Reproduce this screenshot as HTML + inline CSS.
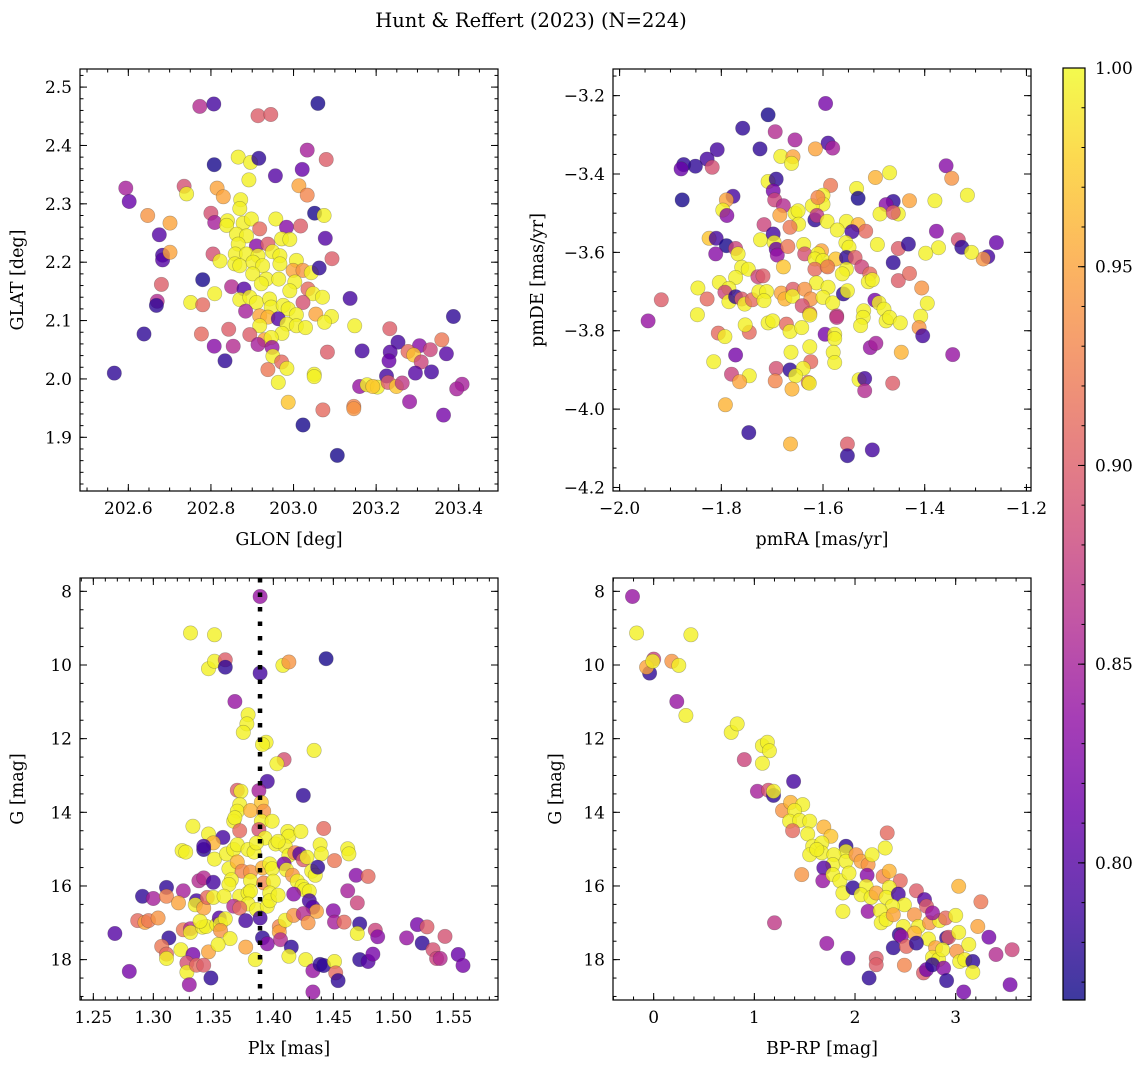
<!DOCTYPE html>
<html><head><meta charset="utf-8">
<style>
html,body{margin:0;padding:0;background:#fff;}
svg{display:block;font-family:"DejaVu Serif","Liberation Serif",serif;}
</style></head>
<body>
<svg id="fig" width="1148" height="1068" viewBox="0 0 1148 1068" xmlns="http://www.w3.org/2000/svg">
<defs>
<linearGradient id="plasma" x1="0" y1="1" x2="0" y2="0"></linearGradient>
</defs>
<text x="531" y="27" font-size="19.5" text-anchor="middle">Hunt &amp; Reffert (2023) (N=224)</text>
</svg>
<script>
// ---------- Panel 1: GLON vs GLAT ----------
const p1Lon=[202.773,202.807,203.059,202.914,202.945,203.033,203.079,202.866,202.896,202.916,202.808,203.021,202.956,202.892,202.594,202.602,202.735,202.741,202.815,202.830,203.013,203.033,202.872,202.870,202.647,202.701,202.800,202.809,203.051,203.074,202.840,202.838,202.878,202.898,202.957,202.918,202.983,203.017,202.675,203.077,202.862,202.886,202.971,202.991,202.866,202.910,202.938,202.683,202.683,202.701,202.805,202.822,202.859,202.886,202.914,202.949,202.967,203.093,202.858,202.870,202.902,202.925,202.967,203.007,202.999,203.023,203.043,203.062,202.680,202.780,202.850,202.880,202.901,202.934,202.964,202.922,203.003,202.991,203.035,203.047,203.070,202.670,202.668,202.751,202.780,202.809,202.870,202.894,202.910,202.942,203.023,203.137,202.884,202.946,202.975,202.987,202.918,202.938,202.963,203.007,203.054,203.092,203.075,203.387,202.918,202.984,203.007,203.029,203.148,202.638,202.777,202.843,202.894,202.972,203.233,202.930,202.946,202.914,202.948,202.808,202.854,203.359,203.253,203.305,203.082,203.166,203.234,203.277,203.331,203.370,203.291,203.309,203.231,202.834,202.950,202.971,202.984,202.938,203.050,203.050,203.295,203.334,203.225,202.963,203.160,203.178,203.203,203.192,203.229,203.249,203.263,203.408,203.395,202.566,202.987,203.071,203.146,203.146,203.281,203.363,203.023,203.106];
const p1Lat=[2.467,2.471,2.472,2.451,2.453,2.392,2.376,2.380,2.371,2.378,2.367,2.359,2.348,2.341,2.327,2.304,2.330,2.317,2.327,2.312,2.331,2.315,2.307,2.292,2.280,2.267,2.284,2.268,2.284,2.280,2.271,2.263,2.267,2.274,2.274,2.257,2.260,2.262,2.247,2.241,2.248,2.245,2.240,2.239,2.231,2.228,2.231,2.212,2.204,2.217,2.214,2.202,2.214,2.214,2.211,2.218,2.211,2.206,2.197,2.194,2.200,2.194,2.197,2.203,2.186,2.186,2.182,2.190,2.162,2.170,2.158,2.154,2.180,2.171,2.171,2.163,2.166,2.151,2.154,2.146,2.140,2.133,2.126,2.131,2.127,2.146,2.136,2.140,2.131,2.137,2.131,2.138,2.116,2.123,2.126,2.120,2.108,2.106,2.103,2.110,2.111,2.107,2.097,2.107,2.091,2.094,2.091,2.088,2.091,2.077,2.077,2.085,2.076,2.078,2.086,2.067,2.071,2.059,2.054,2.056,2.056,2.067,2.063,2.057,2.046,2.048,2.046,2.047,2.050,2.043,2.041,2.029,2.031,2.031,2.039,2.029,2.018,2.016,2.008,2.004,2.010,2.012,2.005,1.994,1.987,1.990,1.986,1.987,1.994,1.987,1.993,1.991,1.983,2.010,1.960,1.947,1.953,1.949,1.961,1.938,1.921,1.869];
const p1Prob=[.86,.79,.77,.90,.90,.85,.90,.995,.995,.78,.77,.81,.80,.995,.85,.81,.89,.995,.95,.95,.95,.93,.995,.995,.94,.95,.89,.85,.77,.995,.995,.995,.995,.995,.995,.91,.83,.90,.80,.80,.995,.995,.995,.995,.995,.83,.90,.79,.80,.95,.89,.995,.995,.995,.995,.995,.995,.90,.995,.995,.995,.995,.995,.995,.95,.94,.995,.78,.90,.77,.86,.80,.995,.995,.995,.995,.995,.995,.91,.995,.995,.86,.78,.995,.91,.995,.995,.995,.995,.995,.89,.79,.85,.995,.995,.995,.95,.96,.80,.995,.95,.995,.995,.78,.995,.995,.995,.995,.995,.78,.91,.90,.90,.995,.90,.95,.995,.85,.84,.83,.86,.92,.79,.83,.90,.79,.80,.91,.88,.80,.97,.88,.81,.78,.995,.91,.995,.92,.995,.995,.80,.79,.79,.995,.84,.995,.995,.97,.90,.97,.87,.85,.85,.78,.97,.91,.93,.94,.84,.82,.77,.77];
const p1XTicks=[202.6,202.8,203.0,203.2,203.4];
const p1YTicks=[1.9,2.0,2.1,2.2,2.3,2.4,2.5];

// ---------- Panel 2: pmRA vs pmDE ----------
const p2Ra=[-1.595,-1.708,-1.758,-1.694,-1.655,-1.590,-1.581,-1.724,-1.808,-1.828,-1.851,-1.874,-1.879,-1.818,-1.615,-1.683,-1.659,-1.662,-1.358,-1.347,-1.497,-1.469,-1.708,-1.692,-1.585,-1.316,-1.877,-1.777,-1.790,-1.797,-1.789,-1.698,-1.695,-1.678,-1.534,-1.531,-1.600,-1.600,-1.621,-1.610,-1.430,-1.380,-1.462,-1.476,-1.488,-1.452,-1.462,-1.685,-1.655,-1.649,-1.648,-1.616,-1.612,-1.592,-1.554,-1.531,-1.516,-1.543,-1.572,-1.665,-1.716,-1.377,-1.334,-1.327,-1.259,-1.276,-1.285,-1.308,-1.373,-1.398,-1.824,-1.810,-1.790,-1.772,-1.811,-1.767,-1.723,-1.698,-1.696,-1.692,-1.690,-1.669,-1.638,-1.636,-1.603,-1.610,-1.616,-1.593,-1.600,-1.575,-1.555,-1.549,-1.554,-1.537,-1.524,-1.452,-1.432,-1.493,-1.462,-1.760,-1.747,-1.678,-1.616,-1.591,-1.554,-1.562,-1.508,-1.511,-1.503,-1.452,-1.430,-1.728,-1.718,-1.772,-1.804,-1.846,-1.785,-1.613,-1.590,-1.918,-1.828,-1.793,-1.785,-1.772,-1.760,-1.754,-1.739,-1.726,-1.711,-1.716,-1.682,-1.675,-1.659,-1.660,-1.636,-1.624,-1.600,-1.581,-1.560,-1.552,-1.406,-1.944,-1.847,-1.641,-1.626,-1.626,-1.573,-1.573,-1.520,-1.521,-1.526,-1.498,-1.490,-1.480,-1.476,-1.469,-1.448,-1.395,-1.408,-1.411,-1.404,-1.806,-1.793,-1.745,-1.753,-1.708,-1.699,-1.672,-1.665,-1.642,-1.596,-1.577,-1.577,-1.507,-1.496,-1.345,-1.446,-1.815,-1.772,-1.663,-1.626,-1.580,-1.577,-1.624,-1.692,-1.665,-1.639,-1.654,-1.780,-1.745,-1.764,-1.694,-1.661,-1.629,-1.627,-1.529,-1.518,-1.518,-1.463,-1.792,-1.746,-1.664,-1.552,-1.552,-1.503];
const p2De=[-3.220,-3.249,-3.283,-3.292,-3.313,-3.321,-3.334,-3.336,-3.338,-3.362,-3.380,-3.376,-3.387,-3.383,-3.336,-3.355,-3.356,-3.373,-3.379,-3.411,-3.409,-3.397,-3.419,-3.413,-3.429,-3.454,-3.466,-3.457,-3.466,-3.492,-3.506,-3.443,-3.466,-3.481,-3.437,-3.462,-3.454,-3.477,-3.481,-3.460,-3.468,-3.468,-3.470,-3.478,-3.502,-3.502,-3.498,-3.505,-3.500,-3.494,-3.528,-3.517,-3.506,-3.521,-3.521,-3.529,-3.546,-3.547,-3.543,-3.536,-3.529,-3.546,-3.568,-3.587,-3.575,-3.611,-3.617,-3.600,-3.588,-3.602,-3.564,-3.564,-3.583,-3.590,-3.604,-3.604,-3.568,-3.553,-3.575,-3.592,-3.607,-3.585,-3.580,-3.604,-3.596,-3.604,-3.617,-3.634,-3.621,-3.617,-3.575,-3.587,-3.613,-3.613,-3.637,-3.590,-3.579,-3.580,-3.626,-3.638,-3.643,-3.637,-3.643,-3.637,-3.643,-3.655,-3.655,-3.675,-3.670,-3.672,-3.654,-3.662,-3.660,-3.664,-3.677,-3.691,-3.692,-3.678,-3.689,-3.721,-3.719,-3.702,-3.726,-3.713,-3.719,-3.732,-3.721,-3.700,-3.700,-3.723,-3.704,-3.719,-3.694,-3.712,-3.694,-3.719,-3.715,-3.729,-3.706,-3.698,-3.691,-3.775,-3.759,-3.736,-3.756,-3.760,-3.762,-3.766,-3.749,-3.766,-3.787,-3.722,-3.729,-3.745,-3.775,-3.766,-3.780,-3.730,-3.763,-3.792,-3.813,-3.806,-3.815,-3.804,-3.785,-3.780,-3.775,-3.783,-3.802,-3.792,-3.809,-3.809,-3.820,-3.843,-3.832,-3.861,-3.855,-3.879,-3.862,-3.855,-3.841,-3.855,-3.881,-3.879,-3.896,-3.900,-3.896,-3.915,-3.911,-3.915,-3.930,-3.928,-3.949,-3.932,-3.934,-3.925,-3.922,-3.953,-3.934,-3.989,-4.060,-4.089,-4.089,-4.119,-4.104];
const p2Prob=[.82,.77,.78,.86,.85,.79,.85,.78,.79,.79,.78,.78,.81,.89,.95,.995,.95,.995,.83,.94,.96,.995,.995,.78,.92,.995,.77,.79,.95,.995,.83,.82,.88,.86,.995,.77,.995,.995,.995,.93,.95,.995,.78,.83,.995,.995,.90,.95,.995,.995,.995,.78,.87,.995,.995,.96,.91,.79,.995,.92,.88,.83,.89,.78,.81,.79,.94,.995,.995,.995,.97,.79,.77,.88,.83,.995,.995,.79,.995,.81,.84,.92,.995,.89,.95,.995,.995,.995,.995,.97,.995,.995,.78,.90,.88,.90,.78,.995,.78,.995,.995,.97,.91,.92,.995,.995,.91,.995,.995,.90,.91,.88,.90,.995,.995,.995,.995,.995,.995,.90,.91,.88,.995,.78,.90,.995,.91,.995,.995,.995,.95,.96,.90,.995,.94,.94,.995,.995,.78,.995,.94,.84,.995,.89,.91,.995,.88,.87,.995,.995,.995,.82,.995,.995,.995,.995,.995,.995,.995,.94,.79,.91,.995,.91,.995,.995,.995,.91,.995,.995,.82,.995,.995,.84,.85,.84,.96,.995,.82,.995,.995,.995,.995,.91,.89,.78,.995,.995,.88,.995,.95,.93,.96,.92,.995,.995,.79,.86,.90,.96,.78,.96,.90,.78,.79];
const p2XTicks=[-2.0,-1.8,-1.6,-1.4,-1.2];
const p2YTicks=[-4.2,-4.0,-3.8,-3.6,-3.4,-3.2];

// ---------- Panel 3: Plx vs G ----------
const p3Plx=[1.389,1.331,1.351,1.346,1.351,1.360,1.360,1.389,1.408,1.413,1.444,1.368,1.379,1.378,1.375,1.394,1.391,1.434,1.409,1.403,1.395,1.425,1.370,1.373,1.388,1.372,1.370,1.390,1.381,1.367,1.368,1.392,1.390,1.399,1.333,1.372,1.388,1.393,1.412,1.413,1.423,1.442,1.346,1.358,1.350,1.342,1.342,1.324,1.327,1.351,1.361,1.367,1.370,1.379,1.384,1.386,1.402,1.410,1.404,1.413,1.418,1.422,1.425,1.428,1.439,1.440,1.451,1.462,1.463,1.363,1.370,1.374,1.381,1.391,1.397,1.399,1.409,1.411,1.416,1.432,1.435,1.437,1.469,1.479,1.338,1.342,1.350,1.311,1.325,1.365,1.363,1.381,1.392,1.400,1.420,1.424,1.426,1.430,1.462,1.291,1.300,1.311,1.321,1.336,1.335,1.342,1.345,1.350,1.359,1.372,1.379,1.381,1.379,1.386,1.395,1.397,1.397,1.404,1.417,1.430,1.433,1.436,1.450,1.470,1.367,1.372,1.268,1.287,1.293,1.296,1.304,1.313,1.307,1.311,1.311,1.323,1.325,1.331,1.331,1.333,1.341,1.344,1.339,1.346,1.353,1.355,1.356,1.360,1.356,1.364,1.354,1.377,1.377,1.389,1.391,1.395,1.405,1.405,1.410,1.417,1.425,1.429,1.406,1.415,1.413,1.427,1.433,1.439,1.442,1.451,1.452,1.454,1.451,1.459,1.472,1.470,1.472,1.479,1.483,1.485,1.487,1.280,1.328,1.328,1.336,1.342,1.348,1.330,1.385,1.433,1.511,1.520,1.528,1.524,1.543,1.533,1.536,1.539,1.554,1.558];
const p3G=[8.14,9.13,9.18,10.10,9.90,9.86,10.06,10.22,10.01,9.92,9.83,10.99,11.35,11.60,11.83,12.10,12.16,12.32,12.57,12.68,13.16,13.54,13.40,13.43,13.41,13.79,13.97,13.73,13.95,14.24,14.15,13.97,14.24,14.24,14.38,14.50,14.47,14.70,14.52,14.65,14.52,14.44,14.59,14.68,14.83,15.01,14.92,15.04,15.08,15.27,15.13,15.01,14.88,15.01,15.08,14.83,14.86,14.92,14.79,15.17,15.10,15.13,15.29,15.22,14.88,15.13,15.31,14.99,15.13,15.53,15.35,15.60,15.62,15.51,15.40,15.53,15.40,15.56,15.71,15.60,15.71,15.49,15.71,15.74,15.86,15.78,15.90,16.04,16.13,15.83,15.96,15.86,15.92,15.87,15.87,16.01,16.10,16.14,16.13,16.28,16.34,16.28,16.46,16.40,16.51,16.60,16.31,16.31,16.28,16.28,16.19,16.14,16.49,16.64,16.55,16.19,16.40,16.25,16.22,16.40,16.58,16.69,16.67,16.46,16.55,16.60,17.29,16.94,16.99,16.94,16.87,17.41,17.64,17.85,17.97,17.73,17.19,17.16,17.26,17.86,17.12,17.10,16.96,17.79,17.05,16.87,17.03,16.89,17.21,17.43,17.59,16.94,17.66,16.87,17.41,17.57,17.10,17.25,16.93,16.80,16.75,17.00,17.46,17.66,17.91,18.00,18.30,18.13,18.16,18.05,18.36,18.57,16.98,16.98,17.03,17.29,18.00,18.05,17.85,17.20,17.38,18.32,18.09,18.34,18.15,18.15,18.50,18.68,18.00,18.88,17.41,17.05,17.11,17.55,17.37,17.73,17.97,17.97,17.86,18.16];
const p3Prob=[.84,.995,.995,.995,.995,.90,.78,.79,.995,.94,.77,.84,.995,.995,.995,.995,.995,.995,.89,.995,.79,.78,.90,.995,.85,.995,.995,.97,.96,.995,.995,.94,.995,.995,.995,.91,.89,.995,.995,.995,.995,.91,.995,.79,.96,.78,.79,.995,.995,.995,.995,.995,.995,.995,.995,.995,.995,.995,.995,.995,.93,.80,.90,.995,.995,.995,.92,.995,.995,.995,.96,.93,.94,.96,.995,.995,.82,.995,.94,.995,.995,.78,.83,.91,.86,.86,.79,.78,.85,.995,.995,.995,.93,.995,.995,.995,.995,.995,.85,.78,.85,.93,.95,.79,.995,.95,.91,.995,.995,.995,.995,.995,.995,.995,.995,.995,.995,.995,.83,.79,.80,.95,.83,.88,.86,.91,.80,.91,.95,.92,.94,.78,.92,.91,.995,.995,.92,.86,.995,.82,.995,.995,.995,.95,.995,.80,.995,.995,.94,.995,.995,.79,.95,.79,.78,.83,.93,.95,.995,.94,.86,.94,.86,.78,.995,.995,.84,.78,.78,.995,.91,.78,.85,.91,.78,.995,.78,.80,.82,.88,.83,.82,.89,.995,.91,.90,.78,.84,.995,.84,.84,.82,.90,.78,.89,.89,.88,.86,.81,.82];
const p3XTicks=[1.25,1.30,1.35,1.40,1.45,1.50,1.55];
const p3YTicks=[8,10,12,14,16,18];
const p3RefPlx=[1.3889];

// ---------- Panel 4: BP-RP vs G ----------
const p4Col=[-0.21,-0.17,0.37,0.00,-0.04,-0.07,-0.01,0.18,0.25,0.23,0.32,0.77,0.83,1.08,1.13,1.15,1.08,0.90,1.39,1.03,1.14,1.19,1.19,1.28,1.36,1.48,1.40,1.35,1.45,1.55,1.38,1.53,1.69,1.76,1.58,1.55,1.67,1.67,1.62,1.91,1.91,1.79,1.78,1.91,2.01,2.06,2.13,2.17,2.30,2.32,1.47,1.69,1.68,1.78,1.85,1.94,1.88,1.98,2.12,2.28,2.34,2.45,2.11,2.06,2.16,2.21,2.34,2.31,2.43,2.49,2.37,2.61,2.69,2.71,3.03,3.25,1.88,2.13,2.25,2.26,2.31,2.38,2.48,2.59,2.63,2.74,2.84,2.90,3.00,2.77,2.59,2.44,2.46,2.73,2.91,2.93,3.03,3.22,3.33,1.20,1.72,1.93,2.21,2.21,2.38,2.51,2.61,2.49,2.80,2.77,2.83,2.87,3.01,3.04,3.09,3.17,3.13,3.17,3.40,3.56,2.14,2.68,2.71,2.77,2.88,2.91,3.08,3.54];
const p4G=[8.14,9.13,9.18,9.84,10.22,10.06,9.90,9.90,10.01,10.99,11.37,11.83,11.60,12.19,12.10,12.33,12.67,12.57,13.16,13.43,13.40,13.54,13.43,13.95,13.73,13.79,13.95,14.24,14.22,14.24,14.50,14.59,14.40,14.65,14.92,15.15,14.83,15.10,15.01,14.92,15.06,15.15,15.42,15.33,15.15,15.33,15.42,15.15,14.97,14.56,15.69,15.51,15.86,15.69,15.86,15.65,16.19,16.05,15.71,15.74,15.60,15.86,16.01,16.24,16.31,16.19,16.04,16.31,16.22,16.51,16.55,16.13,16.37,16.55,16.01,16.43,16.69,16.69,16.67,17.00,16.91,16.78,17.10,16.78,17.10,17.00,16.94,16.87,16.80,16.73,17.28,17.32,17.37,17.44,17.41,17.39,17.26,17.10,17.39,17.00,17.56,17.96,17.96,18.14,17.68,17.64,17.55,18.15,17.68,17.94,18.00,17.73,17.77,18.05,18.00,18.05,17.59,18.34,17.86,17.73,18.50,18.36,18.27,18.14,18.23,18.57,18.88,18.68];
const p4Prob=[.84,.995,.995,.88,.78,.95,.995,.94,.995,.84,.995,.995,.995,.995,.995,.995,.995,.88,.79,.85,.89,.78,.995,.94,.96,.995,.995,.995,.995,.995,.91,.995,.96,.97,.995,.995,.995,.995,.995,.78,.995,.995,.995,.995,.94,.95,.94,.995,.995,.91,.94,.80,.84,.995,.995,.995,.995,.78,.83,.93,.96,.91,.995,.995,.995,.95,.995,.995,.79,.995,.995,.90,.80,.90,.96,.92,.995,.84,.995,.995,.995,.95,.995,.94,.995,.94,.995,.91,.995,.84,.96,.78,.84,.995,.78,.90,.995,.95,.82,.87,.84,.80,.90,.90,.78,.91,.78,.93,.95,.995,.995,.995,.94,.995,.995,.78,.995,.995,.86,.88,.78,.90,.82,.78,.83,.78,.82,.82];
const p4XTicks=[0,1,2,3];
const p4YTicks=[8,10,12,14,16,18];

// ---------- Colorbar ----------
const cbTicks=[0.80,0.85,0.90,0.95,1.00];
const cbMin=0.7655, cbMax=1.0;

const NS="http://www.w3.org/2000/svg";
const svg=document.getElementById('fig');
const plasmaStops=[[0,"#0d0887"],[0.1,"#41049d"],[0.2,"#6a00a8"],[0.3,"#8f0da4"],[0.4,"#b12a90"],[0.5,"#cc4778"],[0.6,"#e16462"],[0.7,"#f2844b"],[0.8,"#fca636"],[0.9,"#fcce25"],[1,"#f0f921"]];
function hex2rgb(h){return [parseInt(h.slice(1,3),16),parseInt(h.slice(3,5),16),parseInt(h.slice(5,7),16)];}
function plasma(t){
  t=Math.max(0,Math.min(1,t));
  for(let i=0;i<plasmaStops.length-1;i++){
    const a=plasmaStops[i],b=plasmaStops[i+1];
    if(t<=b[0]){const f=(t-a[0])/(b[0]-a[0]);const ca=hex2rgb(a[1]),cb=hex2rgb(b[1]);
      return `rgb(${Math.round(ca[0]+(cb[0]-ca[0])*f)},${Math.round(ca[1]+(cb[1]-ca[1])*f)},${Math.round(ca[2]+(cb[2]-ca[2])*f)})`;}
  }
  return "#f0f921";
}
function mk(tag,attrs,parent){const e=document.createElementNS(NS,tag);for(const k in attrs)e.setAttribute(k,attrs[k]);(parent||svg).appendChild(e);return e;}
function fmt(v,d){let s=v.toFixed(d);if(v<0)s="\u2212"+s.slice(1);return s;}

const TICKFS=17, LABFS=17.5;
function panel(o){
  const g=mk('g',{});
  
  
  const L=o.box[0],T=o.box[1],R=o.box[2],B=o.box[3];
  const sx=v=>L+(v-o.xd[0])/(o.xd[1]-o.xd[0])*(R-L);
  const sy=o.yInv?(v=>T+(v-o.yd[0])/(o.yd[1]-o.yd[0])*(B-T)):(v=>B-(v-o.yd[0])/(o.yd[1]-o.yd[0])*(B-T));
  const pg=mk('g',{},g);
  
  
  for(let i=0;i<o.xs.length;i++){
    const c=mk('circle',{cx:sx(o.xs[i]).toFixed(1),cy:sy(o.ys[i]).toFixed(1),r:7.2,fill:plasma((o.cs[i]-cbMin)/(cbMax-cbMin)),'fill-opacity':0.8,stroke:'#333','stroke-opacity':0.35,'stroke-width':0.6},pg);
    
    
  }
  if(o.vline){for(const v of o.vline){
    const l=mk('line',{x1:sx(v),x2:sx(v),y1:T,y2:B,stroke:'#000','stroke-width':4.5,'stroke-dasharray':'4.5 10'},g);
    
    
  }}
  const tg=mk('g',{stroke:'#000','stroke-width':1},g);
  
  
  const eps=1e-9;
  for(let v=Math.ceil(o.xd[0]/o.xminor-eps)*o.xminor;v<=o.xd[1]+eps;v+=o.xminor){const x=sx(v);mk('line',{x1:x,x2:x,y1:B,y2:B-3.5},tg);mk('line',{x1:x,x2:x,y1:T,y2:T+3.5},tg);}
  for(let v=Math.ceil(o.yd[0]/o.yminor-eps)*o.yminor;v<=o.yd[1]+eps;v+=o.yminor){const y=sy(v);mk('line',{x1:L,x2:L+3.5,y1:y,y2:y},tg);mk('line',{x1:R,x2:R-3.5,y1:y,y2:y},tg);}
  for(const v of o.xt){const x=sx(v);mk('line',{x1:x,x2:x,y1:B,y2:B-7},tg);mk('line',{x1:x,x2:x,y1:T,y2:T+7},tg);
    const t=mk('text',{x:x,y:B+23,'font-size':TICKFS,'text-anchor':'middle'},g);t.textContent=fmt(v,o.xdec);
    
    }
  for(const v of o.yt){const y=sy(v);mk('line',{x1:L,x2:L+7,y1:y,y2:y},tg);mk('line',{x1:R,x2:R-7,y1:y,y2:y},tg);
    const t=mk('text',{x:L-8,y:y+6,'font-size':TICKFS,'text-anchor':'end'},g);t.textContent=fmt(v,o.ydec);
    
    }
  const fr=mk('rect',{x:L,y:T,width:R-L,height:B-T,fill:'none',stroke:'#000','stroke-width':1.2},g);
  
  
  const xl=mk('text',{x:(L+R)/2,y:B+54,'font-size':LABFS,'text-anchor':'middle'},g);xl.textContent=o.xlab;
  
  
  const yx=o.ylabX, yy=(T+B)/2;
  const yl=mk('text',{x:yx,y:yy,'font-size':LABFS,'text-anchor':'middle',transform:`rotate(-90 ${yx} ${yy})`},g);yl.textContent=o.ylab;
  
  
}

panel({name:'glon-glat-panel',box:[80,69,498,491],xd:[202.483,203.495],yd:[1.808,2.531],xs:p1Lon,ys:p1Lat,cs:p1Prob,xt:p1XTicks,yt:p1YTicks,xminor:0.05,yminor:0.02,xdec:1,ydec:1,xlab:'GLON [deg]',ylab:'GLAT [deg]',ylabX:23});
panel({name:'proper-motion-panel',box:[613,69,1031,491],xd:[-2.013,-1.191],yd:[-4.209,-3.132],xs:p2Ra,ys:p2De,cs:p2Prob,xt:p2XTicks,yt:p2YTicks,xminor:0.05,yminor:0.05,xdec:1,ydec:1,xlab:'pmRA [mas/yr]',ylab:'pmDE [mas/yr]',ylabX:543});
panel({name:'parallax-magnitude-panel',box:[80,578,498,1000],xd:[1.2389,1.5872],yd:[7.638,19.096],yInv:true,xs:p3Plx,ys:p3G,cs:p3Prob,xt:p3XTicks,yt:p3YTicks,xminor:0.01,yminor:0.5,xdec:2,ydec:0,xlab:'Plx [mas]',ylab:'G [mag]',ylabX:23,vline:p3RefPlx});
panel({name:'color-magnitude-panel',box:[613,578,1031,1000],xd:[-0.404,3.748],yd:[7.638,19.096],yInv:true,xs:p4Col,ys:p4G,cs:p4Prob,xt:p4XTicks,yt:p4YTicks,xminor:0.2,yminor:0.5,xdec:0,ydec:0,xlab:'BP-RP [mag]',ylab:'G [mag]',ylabX:561});

const grad=document.getElementById('plasma');
for(let i=0;i<=20;i++){const f=i/20;const v=cbMin+f*(cbMax-cbMin);mk('stop',{offset:f,'stop-color':plasma((v-cbMin)/(cbMax-cbMin))},grad);}
const cb=mk('g',{});


const cbL=1063,cbR=1085,cbT=68,cbB=1000;
const cbY=v=>cbB-(v-cbMin)/(cbMax-cbMin)*(cbB-cbT);
mk('rect',{x:cbL,y:cbT,width:cbR-cbL,height:cbB-cbT,fill:'url(#plasma)','fill-opacity':0.8},cb);
for(let v=0.77;v<=1.0001;v+=0.01){const y=cbY(v);mk('line',{x1:cbR,x2:cbR-3.5,y1:y,y2:y,stroke:'#000'},cb);}
for(const v of cbTicks){const y=cbY(v);mk('line',{x1:cbR,x2:cbR-7,y1:y,y2:y,stroke:'#000'},cb);
  const t=mk('text',{x:cbR+10,y:y+6,'font-size':TICKFS},cb);t.textContent=v.toFixed(2);
  
  }
mk('rect',{x:cbL,y:cbT,width:cbR-cbL,height:cbB-cbT,fill:'none',stroke:'#000','stroke-width':1.2},cb);
</script>
</body></html>
